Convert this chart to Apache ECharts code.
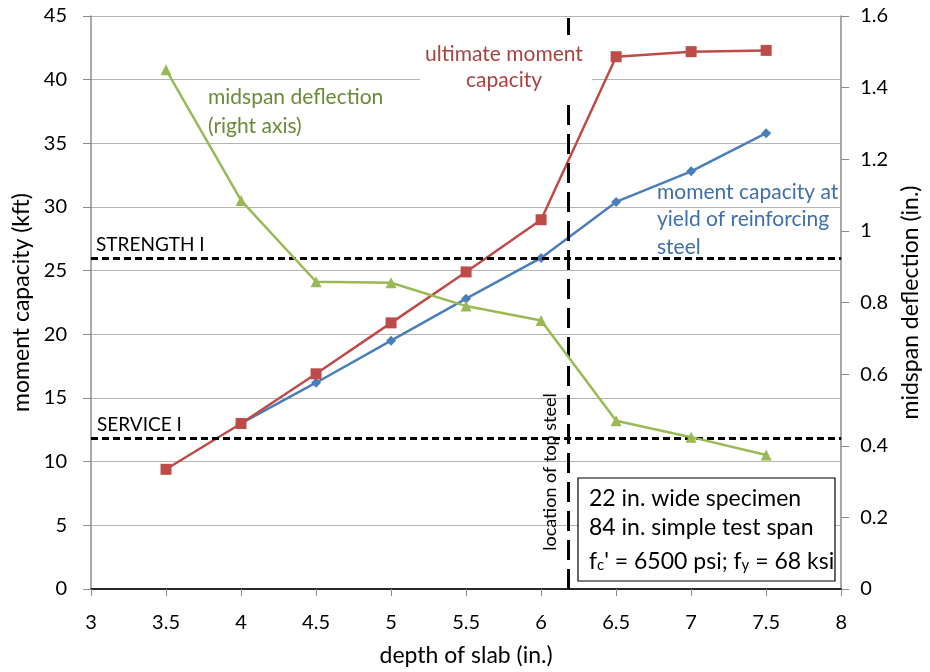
<!DOCTYPE html>
<html>
<head>
<meta charset="utf-8">
<script src="https://cdn.jsdelivr.net/npm/echarts@6/dist/echarts.min.js"></script>
<style>
  html, body { margin: 0; padding: 0; background: #fff; }
  #chart { width: 930px; height: 672px; }
</style>
</head>
<body>
<div id="chart"></div>
<script>
// Slab depth (in.) for each tested specimen
const depths = [3.5, 4, 4.5, 5, 5.5, 6, 6.5, 7, 7.5];
// Moment capacity at yield of reinforcing steel (kft)
const yieldMoment = [null, 13.0, 16.2, 19.5, 22.8, 26.0, 30.4, 32.8, 35.8];
// Ultimate moment capacity (kft)
const ultimateMoment = [9.4, 13.0, 16.9, 20.9, 24.9, 29.0, 41.8, 42.2, 42.3];
// Midspan deflection (in.), right axis
const deflection = [1.45, 1.085, 0.858, 0.855, 0.79, 0.75, 0.47, 0.424, 0.374];

// Load-combination demand levels (kft) and location of top steel (in.)
const strengthI = 26.0;
const serviceI = 11.85;
const topSteelDepth = 6.18;

// Specimen notes
const noteLines = ['22 in. wide specimen', '84 in. simple test span'];

const FONT = 'Lato, "Open Sans", sans-serif';
const pairs = (ys) => depths.map((d, i) => [d, ys[i]]);

const chart = echarts.init(document.getElementById('chart'), null, { renderer: 'canvas' });

const option = {
  animation: false,
  backgroundColor: '#ffffff',
  textStyle: { fontFamily: FONT },
  grid: { left: 91, right: 84, top: 16, bottom: 82, containLabel: false },
  xAxis: [
    {
      type: 'value', min: 3, max: 8, interval: 0.5,
      name: 'depth of slab (in.)', nameLocation: 'middle', nameGap: 55,
      nameTextStyle: { fontSize: 23, color: '#000', fontFamily: FONT },
      axisLine: { lineStyle: { color: '#8c8c8c', width: 1.5 } },
      axisTick: { show: true, length: 7, lineStyle: { color: '#8c8c8c' } },
      axisLabel: { fontSize: 20, color: '#000', margin: 24, fontFamily: FONT },
      splitLine: { show: false }
    },
    {
      type: 'value', min: 3, max: 8, position: 'top',
      axisLine: { show: true, lineStyle: { color: '#000', width: 1.5 } },
      axisTick: { show: false }, axisLabel: { show: false }, splitLine: { show: false }
    }
  ],
  yAxis: [
    {
      type: 'value', min: 0, max: 45, interval: 5,
      name: 'moment capacity (kft)', nameLocation: 'middle', nameGap: 54,
      nameTextStyle: { fontSize: 23, color: '#000', fontFamily: FONT },
      axisLine: { show: true, lineStyle: { color: '#8c8c8c', width: 1.5 } },
      axisTick: { show: true, length: 8, lineStyle: { color: '#8c8c8c' } },
      axisLabel: { fontSize: 20, color: '#000', margin: 24, fontFamily: FONT },
      splitLine: { show: true, lineStyle: { color: '#b4b4b4', width: 1.2 } }
    },
    {
      type: 'value', min: 0, max: 1.6, interval: 0.2, position: 'right',
      name: 'midspan deflection (in.)', nameLocation: 'middle', nameGap: 54, nameRotate: 90,
      nameTextStyle: { fontSize: 23, color: '#000', fontFamily: FONT },
      axisLine: { show: true, lineStyle: { color: '#8c8c8c', width: 1.5 } },
      axisTick: { show: true, length: 8, lineStyle: { color: '#8c8c8c' } },
      axisLabel: {
        fontSize: 20, color: '#000', margin: 19, fontFamily: FONT,
        formatter: (v) => (Math.round(v * 10) / 10).toString()
      },
      splitLine: { show: false }
    }
  ],
  series: [
    {
      name: 'moment capacity at yield of reinforcing steel',
      type: 'line', xAxisIndex: 0, yAxisIndex: 0,
      data: pairs(yieldMoment),
      symbol: 'diamond', symbolSize: 10,
      lineStyle: { color: '#4a7ebb', width: 2.5 },
      itemStyle: { color: '#4a7ebb' },
      z: 3,
      markLine: {
        silent: true, symbol: 'none', animation: false,
        label: { show: false },
        lineStyle: { color: '#000', type: [7, 4], width: 2.8 },
        data: [{ yAxis: strengthI }, { yAxis: serviceI }]
      }
    },
    {
      name: 'ultimate moment capacity',
      type: 'line', xAxisIndex: 0, yAxisIndex: 0,
      data: pairs(ultimateMoment),
      symbol: 'rect', symbolSize: 11,
      lineStyle: { color: '#be4b48', width: 2.5 },
      itemStyle: { color: '#be4b48' },
      z: 4,
      markLine: {
        silent: true, symbol: 'none', animation: false,
        label: { show: false },
        lineStyle: { color: '#000', type: [20, 9], width: 3 },
        data: [{ xAxis: topSteelDepth }]
      }
    },
    {
      name: 'midspan deflection',
      type: 'line', xAxisIndex: 0, yAxisIndex: 1,
      data: pairs(deflection),
      symbol: 'triangle', symbolSize: 11,
      lineStyle: { color: '#98b954', width: 2.5 },
      itemStyle: { color: '#98b954' },
      z: 5
    }
  ],
  graphic: [
    // reference line labels
    { type: 'text', z: 20, x: 96, y: 245,
      style: { text: 'STRENGTH I', font: '19px ' + FONT, fill: '#000', verticalAlign: 'middle' } },
    { type: 'text', z: 20, x: 97, y: 425,
      style: { text: 'SERVICE I', font: '19px ' + FONT, fill: '#000', verticalAlign: 'middle' } },
    // series annotations
    { type: 'rect', z: 19, shape: { x: 420, y: 35, width: 172, height: 62 },
      style: { fill: '#fff' } },
    { type: 'text', z: 20, x: 504, y: 54,
      style: { text: 'ultimate moment', font: '21px ' + FONT, fill: '#a8423f',
               align: 'center', verticalAlign: 'middle' } },
    { type: 'text', z: 20, x: 504, y: 80,
      style: { text: 'capacity', font: '21px ' + FONT, fill: '#a8423f',
               align: 'center', verticalAlign: 'middle' } },
    { type: 'text', z: 20, x: 208, y: 83,
      style: { text: 'midspan deflection\n(right axis)', font: '21px ' + FONT, fill: '#6a8a35',
               align: 'left', verticalAlign: 'top', lineHeight: 29 } },
    { type: 'text', z: 20, x: 657, y: 178,
      style: { text: 'moment capacity at\nyield of reinforcing\nsteel', font: '21px ' + FONT,
               fill: '#3f6ea8', align: 'left', verticalAlign: 'top', lineHeight: 27.5 } },
    // vertical label beside the top-steel line
    { type: 'text', z: 20, x: 550, y: 472, rotation: Math.PI / 2,
      style: { text: 'location of top steel', font: '18px ' + FONT, fill: '#000',
               align: 'center', verticalAlign: 'middle' } },
    // specimen note box
    { type: 'rect', z: 19, shape: { x: 578, y: 478, width: 257, height: 103 },
      style: { fill: '#fff', stroke: '#000', lineWidth: 1.2 } },
    { type: 'text', z: 20, x: 589, y: 499,
      style: { text: noteLines[0], font: '23px ' + FONT, fill: '#000', verticalAlign: 'middle' } },
    { type: 'text', z: 20, x: 589, y: 528,
      style: { text: noteLines[1], font: '23px ' + FONT, fill: '#000', verticalAlign: 'middle' } },
    { type: 'text', z: 20, x: 589, y: 543,
      style: {
        text: '{t|f}{s|c}{t|\' = 6500 psi; f}{s|y}{t| = 68 ksi}',
        rich: {
          t: { font: '23px ' + FONT, fill: '#000', verticalAlign: 'bottom', lineHeight: 30 },
          s: { font: '15px ' + FONT, fill: '#000', verticalAlign: 'bottom', lineHeight: 22 }
        }
      } }
  ]
};

chart.setOption(option);
</script>
</body>
</html>
